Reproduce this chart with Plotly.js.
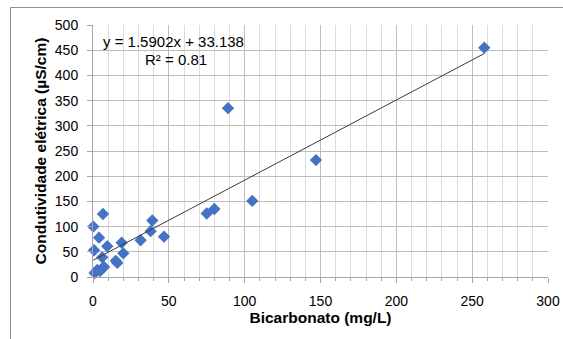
<!DOCTYPE html>
<html>
<head>
<meta charset="utf-8">
<script src="https://cdn.plot.ly/plotly-3.0.1.min.js"></script>
<style>html,body{margin:0;padding:0;background:#fff;}#chart{width:563px;height:339px;}</style>
</head>
<body>
<div id="chart"></div>
<script>
// Data
var bicarbonato = [258, 89, 147, 105, 75, 80, 6.6, 0.2, 4, 0.7, 9.4, 6.1, 18.9, 20, 15, 16, 31.4, 39.1, 38, 46.8, 1.1, 2.8, 6.1, 7.3, 4.6];
var condutividade = [455, 335, 232, 151, 126, 135, 125, 100, 78, 53, 61, 39, 68, 47, 32, 28, 73, 112, 91, 80, 8, 14, 17, 20, 12];
var slope = 1.5902;
var intercept = 33.138;
var r2 = 0.81;
var xTitle = "Bicarbonato (mg/L)";
var yTitle = "Condutividade elétrica (µS/cm)";

var xmin = Math.min.apply(null, bicarbonato);
var xmax = Math.max.apply(null, bicarbonato);
var trendX = [xmin, xmax];
var trendY = trendX.map(function(v){ return slope * v + intercept; });

var font = "Liberation Sans, Arial, sans-serif";

var traces = [
  {
    x: bicarbonato, y: condutividade, type: "scatter", mode: "markers",
    marker: {symbol: "diamond", size: 9.5, color: "#4472C4", line: {width: 0}},
    cliponaxis: false,
    hoverinfo: "x+y", showlegend: false
  },
  {
    x: trendX, y: trendY, type: "scatter", mode: "lines",
    line: {color: "#3a3a3a", width: 1}, hoverinfo: "skip", showlegend: false
  }
];

var layout = {
  width: 563, height: 339,
  margin: {l: 93, r: 15, t: 25, b: 62},
  paper_bgcolor: "#ffffff", plot_bgcolor: "#ffffff",
  font: {family: font, size: 14, color: "#000"},
  xaxis: {
    range: [0, 300], dtick: 50, tick0: 0, fixedrange: true,
    showgrid: true, gridcolor: "#bdbdbd", gridwidth: 1,
    minor: {dtick: 10, showgrid: true, gridcolor: "#dcdcdc", gridwidth: 1, ticks: "outside", ticklen: 3, tickcolor: "#a6a6a6"},
    showline: true, linecolor: "#a6a6a6", linewidth: 1,
    ticks: "outside", ticklen: 5, tickcolor: "#a6a6a6",
    ticklabelstandoff: 6,
    zeroline: false,
    tickfont: {family: font, size: 14, color: "#000"},
    title: {text: "<b>" + xTitle + "</b>", font: {family: font, size: 15.5, color: "#000"}, standoff: 3}
  },
  yaxis: {
    range: [0, 500], dtick: 50, tick0: 0, fixedrange: true,
    showgrid: true, gridcolor: "#bdbdbd", gridwidth: 1,
    showline: true, linecolor: "#a6a6a6", linewidth: 1,
    ticks: "outside", ticklen: 5, tickcolor: "#a6a6a6",
    ticklabelstandoff: 6,
    zeroline: false,
    tickfont: {family: font, size: 14, color: "#000"},
    title: {text: "<b>" + yTitle + "</b>", font: {family: font, size: 15.5, color: "#000"}, standoff: 4}
  },
  annotations: [
    {x: 53.2, y: 467, xref: "x", yref: "y", text: "y = " + slope + "x + " + intercept,
     showarrow: false, xanchor: "center", yanchor: "middle", font: {family: font, size: 15, color: "#000"}},
    {x: 54.4, y: 432, xref: "x", yref: "y", text: "R² = " + r2,
     showarrow: false, xanchor: "center", yanchor: "middle", font: {family: font, size: 15, color: "#000"}}
  ],
  shapes: [
    {type: "rect", xref: "paper", yref: "paper", x0: -0.1813, x1: 1.3, y0: -0.6, y1: 1.0694,
     line: {color: "#8c8c8c", width: 1}, fillcolor: "rgba(0,0,0,0)", layer: "above"}
  ]
};

Plotly.newPlot("chart", traces, layout, {displayModeBar: false, staticPlot: true});
</script>
</body>
</html>
